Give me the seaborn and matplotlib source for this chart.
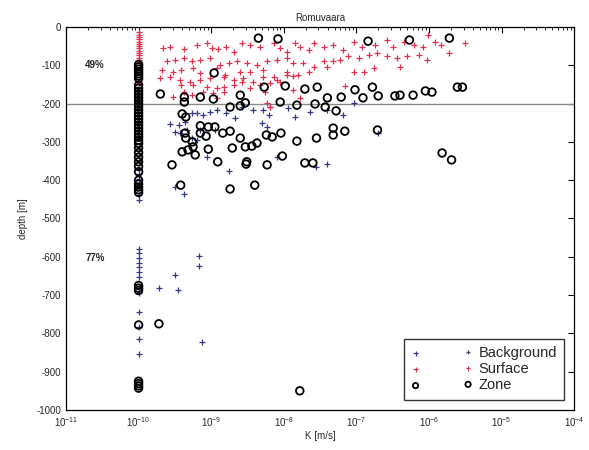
import numpy as np
import pandas as pd
import matplotlib
matplotlib.use("Agg")
import matplotlib.pyplot as plt
import seaborn as sns
from matplotlib.ticker import LogLocator, NullFormatter

# ---------------- data (log10 K [m/s], depth [m]) ----------------
surface_logk = [-9.66, -9.57, -9.38, -9.20, -9.06, -8.99, -8.90, -8.79, -8.69, -8.58, -8.46, -8.33,
                -8.14, -8.05, -7.96, -7.84, -7.78, -7.66, -7.59, -7.45, -7.32, -7.18, -7.04, -6.93,
                -6.74, -6.58, -6.49, -6.35, -6.21, -6.08, -6.01, -5.92, -5.84, -5.73, -5.50,
                -9.61, -9.50, -9.38, -9.27, -9.15, -9.02, -8.88, -8.76, -8.65, -8.51, -8.37, -8.23,
                -8.10, -7.96, -7.87, -7.73, -7.59, -7.45, -7.32, -7.22, -7.11, -6.97, -6.83, -6.72,
                -6.58, -6.44, -6.31, -6.14, -6.03,
                -9.68, -9.52, -9.41, -9.25, -9.15, -8.92, -8.81, -8.60, -8.46, -8.28, -8.14, -7.96,
                -7.80, -7.66, -7.41, -7.04, -6.90, -6.76, -6.40,
                -9.70, -9.57, -9.43, -9.29, -9.15, -9.02, -8.83, -8.69, -8.56, -8.42, -8.28, -8.10,
                -7.96, -7.87,
                -9.41, -9.25, -9.06, -8.92, -8.83, -8.69, -8.58, -8.46, -8.33, -8.19, -8.05, -7.87, -7.16,
                -9.52, -9.38, -9.27, -9.11, -8.97, -8.92, -8.83, -8.26, -8.23, -8.19, -7.78,
                -10, -10, -10, -10, -10, -10, -10, -10, -10, -10, -10, -10, -10, -10, -10, -10]
surface_depth = [-56, -51, -58, -47, -43, -56, -58, -51, -64, -43, -47, -51,
                 -43, -56, -64, -43, -51, -60, -43, -51, -47, -60, -38, -51,
                 -47, -34, -51, -38, -47, -51, -21, -38, -47, -69, -43,
                 -90, -86, -82, -90, -86, -82, -99, -95, -90, -95, -99, -90,
                 -86, -82, -95, -95, -104, -90, -90, -86, -77, -82, -73, -69,
                 -77, -82, -77, -73, -86,
                 -112, -117, -112, -108, -121, -108, -125, -117, -117, -112, -130, -117,
                 -125, -117, -104, -117, -117, -108, -104,
                 -134, -130, -138, -143, -138, -134, -130, -138, -134, -143, -130, -138,
                 -125, -128,
                 -151, -151, -156, -160, -156, -151, -143, -160, -151, -147, -143, -164, -154,
                 -182, -169, -177, -169, -173, -186, -169, -169, -199, -208, -186,
                 -12, -20, -26, -32, -38, -44, -50, -56, -62, -68, -74, -80, -86, -92, -140, -146]

background_logk = [-9.57, -9.45, -9.36, -9.27, -9.20, -9.11, -9.02, -8.92, -8.79, -8.67, -8.58, -8.42,
                   -8.28, -8.21, -8.19, -8.23, -8.30, -7.94, -7.84, -7.64, -7.41, -7.18, -7.04,
                   -9.43, -9.34, -9.50, -9.15, -8.95, -9.20, -9.27, -9.06, -8.76, -8.10, -7.55,
                   -7.41, -6.70, -9.50, -9.38,
                   -9.72, -9.50, -9.46, -9.17, -9.17, -9.13,
                   -10, -10, -10, -10, -10, -10, -10, -10, -10, -10, -10, -10, -10, -10, -10,
                   -10, -10, -10, -10, -10, -10, -10, -10, -10, -10, -10, -10, -10]
background_depth = [-253, -256, -247, -225, -225, -230, -221, -217, -225, -238, -208, -217,
                    -217, -230, -208, -260, -251, -212, -234, -221, -217, -230, -199,
                    -278, -269, -273, -269, -269, -295, -291, -339, -375, -339, -365,
                    -358, -278, -417, -436,
                    -681, -648, -687, -598, -624, -822,
                    -196, -210, -230, -250, -270, -290, -310, -330, -350, -372, -385, -398, -412,
                    -440, -452, -580, -590, -603, -616, -627, -640, -653, -681, -695, -744, -783,
                    -815, -854]

zone_logk = [-8.35, -8.08, -6.84, -6.27, -5.72, -8.96, -9.70, -9.37, -9.15, -8.97, -8.60, -8.27,
             -7.98, -7.71, -7.54, -7.40, -7.21, -7.02, -6.78, -6.91, -6.70, -6.47, -6.40, -6.22,
             -6.05, -5.96, -5.61, -5.54,
             -9.37, -8.74, -8.60, -8.53, -8.05, -7.82, -7.57, -7.43, -7.28,
             -9.40, -9.35, -9.15, -9.04, -8.95, -9.36, -9.15, -8.84, -8.74, -9.35, -9.07, -8.60,
             -8.24, -8.16, -8.04, -7.32, -7.32, -7.16, -6.71,
             -9.26, -9.25, -9.40, -9.32, -9.22, -9.04, -8.71, -8.53, -8.44, -8.37, -7.82, -7.55,
             -9.54, -8.91, -8.51, -8.52, -8.23, -8.02, -7.71, -7.60, -5.82, -5.69,
             -9.42, -8.74, -8.40, -9.72, -7.78,
             -10, -10, -10, -10, -10, -10, -10, -10, -10, -10, -10, -10, -10, -10, -10, -10,
             -10, -10, -10, -10, -10, -10, -10, -10, -10, -10, -10, -10, -10, -10, -10, -10,
             -10, -10, -10, -10, -10, -10, -10, -10, -10, -10, -10, -10, -10, -10]
zone_depth = [-29, -31, -37, -34, -29, -120, -175, -183, -183, -188, -178, -157,
              -154, -162, -157, -185, -183, -164, -157, -185, -180, -180, -178, -178,
              -167, -170, -157, -157,
              -196, -209, -206, -198, -196, -204, -201, -209, -219,
              -227, -235, -258, -261, -261, -277, -277, -277, -272, -290, -285, -290,
              -282, -287, -277, -264, -282, -272, -269,
              -300, -313, -326, -321, -334, -319, -316, -313, -311, -303, -298, -290,
              -360, -352, -352, -358, -360, -337, -355, -355, -329, -347,
              -413, -423, -413, -775, -950,
              -98, -104, -110, -116, -122, -128, -134, -152, -160, -168, -176, -184, -192, -200,
              -208, -216, -224, -232, -240, -248, -256, -264, -272, -280, -288, -296, -304, -315,
              -328, -340, -352, -364, -378, -400, -410, -418, -425, -432, -675, -682, -688, -778,
              -925, -931, -937, -943]

series_names = ["Background", "Surface", "Zone"]
labels_pct = ["49%", "77%"]
label_depths = [-99, -603]
title = "Romuvaara"

# ---------------- plotting ----------------
sns.set_style("white")
plt.rcParams["font.family"] = ["Liberation Sans", "DejaVu Sans"]
plt.rcParams["axes.unicode_minus"] = False

fig = plt.figure(figsize=(5.89, 4.5), dpi=100)
ax = fig.add_axes([0.112, 0.089, 0.863, 0.851])

bg = pd.DataFrame({"K": np.power(10.0, background_logk), "depth": background_depth})
sf = pd.DataFrame({"K": np.power(10.0, surface_logk), "depth": surface_depth})
zn = pd.DataFrame({"K": np.power(10.0, zone_logk), "depth": zone_depth})

ax.axhline(-200, color="#8a8a8a", lw=1.0, zorder=1)

sns.scatterplot(data=bg, x="K", y="depth", marker="+", color="#33398a", s=24,
                linewidth=0.9, label=series_names[0], ax=ax, zorder=3)
sns.scatterplot(data=sf, x="K", y="depth", marker="+", color="#e0304c", s=24,
                linewidth=0.9, label=series_names[1], ax=ax, zorder=3)
sns.scatterplot(data=zn, x="K", y="depth", marker="o", facecolor="none",
                edgecolor="black", s=30, linewidth=1.3, label=series_names[2], ax=ax, zorder=4)

ax.set_xscale("log")
ax.set_xlim(1e-11, 1e-4)
ax.set_ylim(-1000, 0)
ax.set_yticks(np.arange(-1000, 1, 100))
ax.xaxis.set_major_locator(LogLocator(base=10, numticks=20))
ax.xaxis.set_minor_locator(LogLocator(base=10, subs=np.arange(2, 10), numticks=100))
ax.xaxis.set_minor_formatter(NullFormatter())

ax.tick_params(axis="both", which="both", direction="in", top=True, right=True,
               labelsize=7, color="black")
ax.tick_params(axis="both", which="major", length=4, width=0.8)
ax.tick_params(axis="x", which="minor", length=2, width=0.6)
for sp in ax.spines.values():
    sp.set_color("black")
    sp.set_linewidth(0.9)

ax.set_xlabel("K [m/s]", fontsize=7, labelpad=2)
ax.set_ylabel("depth [m]", fontsize=7, labelpad=6)
ax.set_title(title, fontsize=7, pad=4)

for lab, d in zip(labels_pct, label_depths):
    ax.text(10 ** -10.6, d, lab, fontsize=7, fontweight="bold", ha="center", va="center")

leg = ax.legend(loc="lower right", scatterpoints=2, fontsize=10.5, frameon=True,
                fancybox=False, edgecolor="black", handletextpad=0.4, markerscale=0.7,
                labelspacing=0.15, borderpad=0.5, borderaxespad=0.7, handlelength=4.2)
leg.get_frame().set_linewidth(1.0)

fig.savefig("out.png", dpi=100)
